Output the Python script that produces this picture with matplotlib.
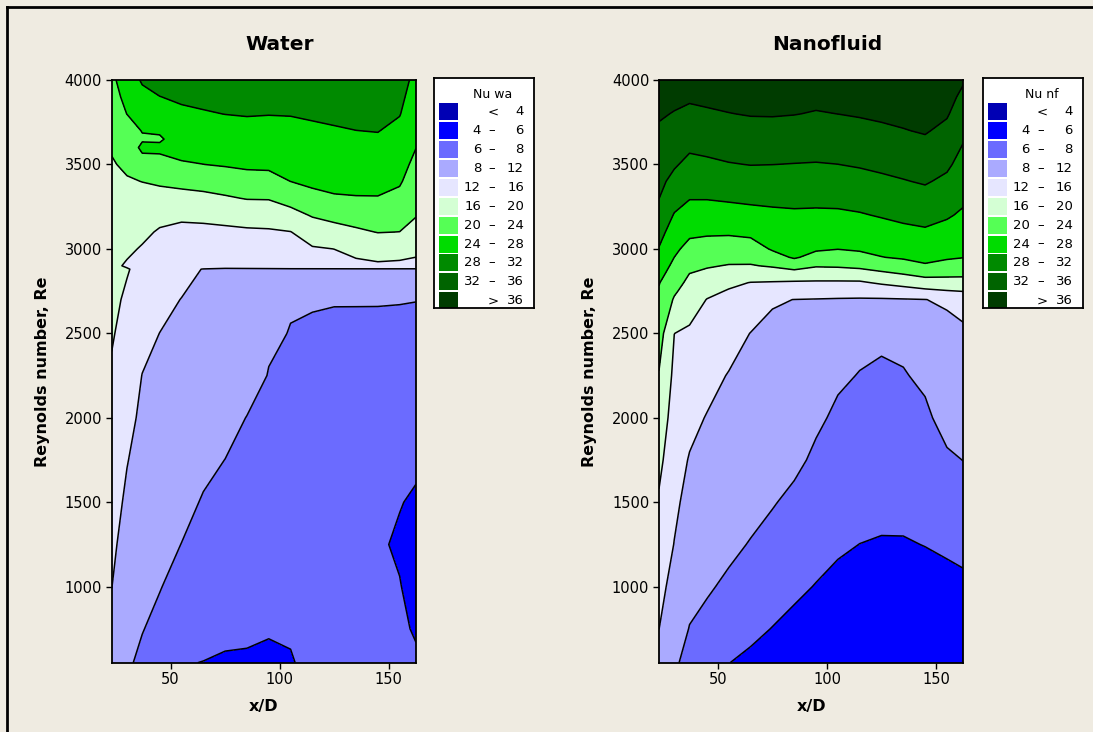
import numpy as np
import matplotlib
matplotlib.use("Agg")
import matplotlib.pyplot as plt
from matplotlib.patches import Rectangle
from matplotlib.lines import Line2D

# ---------------------------------------------------------------
# Data: Nu values on an (x/D, Re) grid
# each inner list is one x/D column, running up in Re
# ---------------------------------------------------------------
x_d = [23, 30, 37, 45, 55, 65, 75, 85, 95, 105, 115, 125, 135, 145, 155, 162.5]

re_water = [550, 750, 1000, 1250, 1500, 1750, 2000, 2250, 2500, 2700, 2880, 2900,
            3000, 3100, 3200, 3300, 3400, 3500, 3600, 3650, 3700, 3800, 3900, 4000]

nu_water_cols = [
    [9.5, 10.6, 12.05, 12.75, 13.46, 14.2, 14.9, 15.6, 16.3, 16.7, 17.0, 16.6, 17.2, 17.8, 18.4, 18.9, 19.4, 19.7, 20.3, 20.75, 21.2, 22.0, 22.6, 23.2],
    [8.3, 8.95, 9.75, 10.56, 11.37, 12.15, 13.07, 13.96, 14.85, 15.55, 16.2, 15.7, 16.5, 17.4, 18.1, 18.9, 19.7, 20.6, 21.6, 22.05, 22.5, 24.05, 25.0, 26.0],
    [7.57, 8.08, 8.72, 9.36, 10.0, 10.65, 11.29, 11.93, 13.16, 14.2, 15.14, 15.24, 15.76, 16.63, 17.78, 18.92, 20.05, 22.4, 24.8, 23.6, 24.15, 25.55, 27.0, 28.4],
    [6.93, 7.45, 8.09, 8.74, 9.38, 10.03, 10.67, 11.32, 11.97, 13.17, 14.3, 14.43, 15.06, 15.69, 16.88, 18.63, 20.54, 23.0, 24.6, 23.6, 24.4, 26.2, 27.95, 29.2],
    [6.06, 6.61, 7.29, 7.97, 8.65, 9.33, 10.01, 10.69, 11.37, 11.91, 13.32, 13.5, 14.4, 15.3, 16.5, 18.7, 21.07, 23.7, 25.03, 25.6, 26.2, 27.4, 28.5, 29.7],
    [5.98, 6.37, 6.86, 7.34, 7.83, 8.51, 9.28, 10.06, 10.84, 11.46, 11.85, 13.9, 14.66, 15.4, 16.57, 19.0, 21.5, 23.98, 25.25, 25.87, 26.5, 27.74, 28.8, 29.8],
    [5.88, 6.23, 6.67, 7.11, 7.55, 7.98, 8.71, 9.45, 10.18, 10.77, 11.3, 14.2, 14.86, 15.52, 16.78, 19.56, 22.09, 24.28, 25.52, 26.14, 26.76, 28.05, 29.1, 30.0],
    [5.88, 6.16, 6.52, 6.88, 7.24, 7.6, 7.95, 8.87, 9.87, 10.67, 11.4, 14.3, 14.95, 15.6, 17.21, 20.2, 22.7, 24.58, 25.78, 26.4, 26.99, 28.2, 29.2, 30.2],
    [5.83, 6.07, 6.38, 6.69, 7.0, 7.3, 7.61, 7.92, 8.3, 9.9, 11.5, 14.4, 15.03, 15.67, 17.39, 20.26, 22.84, 24.64, 25.8, 26.37, 26.95, 28.1, 29.1, 30.1],
    [5.92, 6.12, 6.38, 6.64, 6.9, 7.16, 7.42, 7.68, 7.94, 8.14, 11.6, 14.6, 15.26, 15.92, 18.7, 21.47, 24.02, 25.05, 26.08, 26.6, 27.12, 28.15, 29.1, 30.0],
    [6.3, 6.46, 6.67, 6.87, 7.08, 7.28, 7.49, 7.69, 7.9, 8.06, 11.6, 14.8, 15.7, 17.72, 20.31, 23.08, 24.63, 25.57, 26.5, 26.98, 27.45, 28.4, 29.3, 30.0],
    [6.5, 6.64, 6.82, 7.0, 7.18, 7.36, 7.53, 7.71, 7.89, 8.03, 11.6, 15.0, 16.02, 18.56, 21.13, 23.7, 24.85, 25.8, 26.78, 27.26, 27.74, 28.6, 29.4, 30.0],
    [6.4, 6.35, 6.3, 6.3, 6.5, 6.8, 7.1, 7.4, 7.7, 8.08, 11.6, 15.3, 16.88, 19.4, 21.65, 23.83, 24.94, 25.95, 26.97, 27.48, 27.98, 28.9, 29.6, 30.2],
    [6.5, 6.35, 6.25, 6.3, 6.4, 6.6, 6.95, 7.3, 7.65, 8.09, 11.6, 15.5, 17.59, 20.11, 21.98, 23.85, 24.97, 26.03, 27.09, 27.6, 28.1, 28.8, 29.4, 29.8],
    [6.6, 6.35, 6.1, 5.7, 6.1, 6.5, 6.85, 7.2, 7.55, 8.08, 11.6, 15.3, 17.49, 19.97, 21.54, 23.09, 24.39, 25.33, 26.27, 26.74, 27.2, 28.15, 28.7, 29.2],
    [6.3, 5.8, 5.2, 5.0, 5.7, 6.4, 6.8, 7.2, 7.6, 8.03, 11.6, 15.1, 16.86, 18.6, 20.19, 21.14, 22.1, 23.05, 24.05, 24.5, 25.0, 25.9, 26.6, 27.2],
]

re_nano = [550, 750, 1000, 1250, 1500, 1750, 2000, 2250, 2500, 2700, 2750, 2800, 2850,
           2900, 2950, 3000, 3100, 3200, 3300, 3400, 3500, 3600, 3700, 3800, 3900, 4000]

nu_nano_cols = [
    [11.05, 12.02, 13.19, 14.38, 15.57, 16.91, 18.34, 19.77, 21.68, 23.28, 23.68, 24.18, 25.09, 26.0, 26.91, 27.82, 29.26, 30.66, 32.04, 32.91, 33.79, 34.67, 35.54, 36.4, 37.2, 38.0],
    [8.4, 9.4, 10.65, 11.9, 12.75, 13.56, 14.37, 15.19, 16.02, 19.64, 20.52, 21.39, 22.26, 23.13, 23.99, 24.75, 26.26, 27.77, 29.36, 30.96, 32.4, 33.54, 34.69, 35.83, 36.8, 37.6],
    [7.13, 7.9, 8.87, 9.84, 10.8, 11.77, 12.96, 14.23, 15.49, 17.57, 18.35, 19.14, 19.92, 20.89, 21.87, 22.86, 24.72, 26.45, 28.15, 29.6, 31.05, 32.48, 33.85, 35.22, 36.5, 37.3],
    [6.64, 7.36, 8.25, 9.14, 10.04, 10.93, 11.82, 13.2, 14.71, 15.91, 16.82, 18.0, 19.18, 20.32, 21.38, 22.45, 24.5, 26.34, 28.16, 29.75, 31.33, 32.81, 34.19, 35.58, 36.7, 37.5],
    [6.02, 6.72, 7.61, 8.47, 9.3, 10.14, 10.97, 11.8, 13.62, 15.33, 15.76, 16.69, 18.25, 19.81, 21.03, 22.2, 24.47, 26.51, 28.45, 30.13, 31.82, 33.21, 34.56, 35.92, 37.0, 37.8],
    [5.7, 6.33, 7.1, 7.88, 8.68, 9.49, 10.3, 11.11, 11.92, 14.49, 15.2, 15.91, 17.76, 19.76, 21.14, 22.44, 24.81, 26.84, 28.73, 30.41, 32.08, 33.47, 34.85, 36.2, 37.2, 38.0],
    [5.39, 5.96, 6.67, 7.39, 8.12, 8.96, 9.81, 10.65, 11.49, 12.2, 14.5, 15.75, 17.95, 20.38, 22.73, 24.34, 25.8, 27.27, 28.8, 30.4, 32.02, 33.42, 34.84, 36.25, 37.2, 38.0],
    [5.09, 5.62, 6.28, 6.94, 7.6, 8.38, 9.33, 10.27, 11.22, 11.98, 13.68, 15.58, 18.1, 21.71, 24.37, 24.99, 26.23, 27.47, 28.87, 30.39, 31.91, 33.31, 34.71, 36.1, 37.0, 37.8],
    [4.89, 5.36, 5.94, 6.53, 7.11, 7.7, 8.28, 9.76, 10.95, 11.9, 13.26, 15.51, 17.88, 20.31, 22.87, 24.41, 25.89, 27.37, 28.85, 30.34, 31.82, 33.16, 34.48, 35.8, 36.8, 37.7],
    [4.75, 5.16, 5.67, 6.18, 6.7, 7.21, 7.72, 8.24, 10.47, 11.82, 13.13, 15.48, 18.0, 20.42, 22.3, 24.08, 25.74, 27.4, 28.97, 30.48, 31.98, 33.33, 34.67, 36.02, 37.0, 37.9],
    [4.64, 5.03, 5.51, 5.99, 6.49, 6.97, 7.46, 7.94, 8.44, 11.77, 13.13, 15.48, 18.26, 20.84, 22.95, 24.41, 26.07, 27.73, 29.29, 30.82, 32.31, 33.63, 34.96, 36.3, 37.2, 38.0],
    [4.57, 4.95, 5.42, 5.9, 6.37, 6.84, 7.31, 7.78, 8.26, 11.74, 13.61, 16.53, 19.2, 21.61, 23.91, 24.83, 26.57, 28.27, 29.79, 31.32, 32.74, 34.07, 35.41, 36.6, 37.4, 38.1],
    [4.5, 4.9, 5.4, 5.9, 6.4, 6.9, 7.4, 7.9, 8.4, 11.81, 14.3, 17.44, 19.98, 22.53, 24.39, 25.31, 27.15, 28.81, 30.32, 31.82, 33.18, 34.53, 35.85, 36.9, 37.6, 38.2],
    [4.46, 4.91, 5.47, 6.03, 6.58, 7.16, 7.72, 8.28, 10.58, 11.96, 15.2, 18.23, 21.01, 23.68, 24.8, 25.69, 27.53, 29.19, 30.8, 32.33, 33.67, 35.0, 36.3, 37.2, 37.9, 38.4],
    [4.14, 4.75, 5.5, 6.26, 7.02, 7.77, 8.54, 9.96, 11.11, 12.41, 15.8, 18.41, 20.79, 22.88, 24.38, 25.19, 26.82, 28.4, 29.84, 31.28, 32.63, 33.88, 35.13, 36.35, 37.2, 37.9],
    [4.25, 4.88, 5.66, 6.44, 7.22, 8.02, 9.09, 10.17, 11.26, 13.54, 16.1, 18.5, 20.67, 22.44, 24.08, 24.76, 26.11, 27.46, 28.62, 29.64, 30.67, 31.69, 32.82, 34.0, 35.18, 36.35],
]

# contour bands (Minitab style)
levels = [4, 6, 8, 12, 16, 20, 24, 28, 32, 36]
band_colors = ["#0000B4", "#0000FF", "#6B6BFF", "#AAAAFF", "#E6E6FF", "#D4FFD4",
               "#55FF55", "#00DC00", "#008A00", "#006400", "#003C00"]

BG = "#EFEBE1"
W, H = 1093, 732


def draw_panel(ax, re_vals, cols):
    X, Y = np.meshgrid(x_d, re_vals)
    Z = np.array(cols).T
    bounds = [-100] + levels + [100]
    ax.contourf(X, Y, Z, levels=bounds, colors=band_colors)
    ax.contour(X, Y, Z, levels=levels, colors="k", linewidths=1.1)
    ax.set_xlim(x_d[0], x_d[-1])
    ax.set_ylim(550, 4000)
    ax.set_xticks([50, 100, 150])
    ax.set_yticks([1000, 1500, 2000, 2500, 3000, 3500, 4000])
    ax.tick_params(direction="out", length=4, width=1, labelsize=10.5, pad=3)
    for sp in ax.spines.values():
        sp.set_linewidth(1.3)
    ax.set_xlabel("x/D", fontsize=11.5, fontweight="bold")
    ax.set_ylabel("Reynolds number, Re", fontsize=11.5, fontweight="bold")
    ax.xaxis.set_label_coords(0.5, -0.062)
    ax.yaxis.set_label_coords(-0.203, 0.5)


def draw_legend(fig, left_px, title):
    lax = fig.add_axes([left_px / W, 1 - 308.3 / H, 100 / W, 230 / H])
    lax.set_xlim(0, 100)
    lax.set_ylim(230, 0)
    lax.set_xticks([])
    lax.set_yticks([])
    lax.set_facecolor("white")
    for sp in lax.spines.values():
        sp.set_linewidth(1.3)
    lax.text(59, 16.7, title, ha="center", va="center", fontsize=9)
    bounds = [None] + levels + [None]
    for i, c in enumerate(band_colors):
        yc = 33.4 + 18.9 * i
        lax.add_patch(Rectangle((5, yc - 8.5), 19, 17, facecolor=c, edgecolor="none"))
        lo, hi = bounds[i], bounds[i + 1]
        if lo is None:
            lax.text(59, yc, "<", ha="center", va="center", fontsize=9.5)
            lax.text(90, yc, str(hi), ha="right", va="center", fontsize=9.5)
        elif hi is None:
            lax.text(59, yc, ">", ha="center", va="center", fontsize=9.5)
            lax.text(90, yc, str(lo), ha="right", va="center", fontsize=9.5)
        else:
            lax.text(47, yc, str(lo), ha="right", va="center", fontsize=9.5)
            lax.text(58, yc, "\u2013", ha="center", va="center", fontsize=9.5)
            lax.text(90, yc, str(hi), ha="right", va="center", fontsize=9.5)


fig = plt.figure(figsize=(W / 100, H / 100), dpi=100, facecolor=BG)

ax_w = fig.add_axes([111.7 / W, 1 - 662.7 / H, 304.3 / W, 582.7 / H])
draw_panel(ax_w, re_water, nu_water_cols)
draw_legend(fig, 434, "Nu wa")

ax_n = fig.add_axes([659 / W, 1 - 662.7 / H, 304.3 / W, 582.7 / H])
draw_panel(ax_n, re_nano, nu_nano_cols)
draw_legend(fig, 982.7, "Nu nf")

fig.text(280 / W, 1 - 45 / H, "Water", ha="center", va="center", fontsize=14.5, fontweight="bold")
fig.text(827 / W, 1 - 45 / H, "Nanofluid", ha="center", va="center", fontsize=14.5, fontweight="bold")

# frame lines on top and left edge of the picture
fig.add_artist(Line2D([7 / W, 1], [1 - 7 / H, 1 - 7 / H], color="k", lw=2))
fig.add_artist(Line2D([7 / W, 7 / W], [0, 1 - 7 / H], color="k", lw=2))

fig.savefig("out.png", dpi=100, facecolor=BG)
